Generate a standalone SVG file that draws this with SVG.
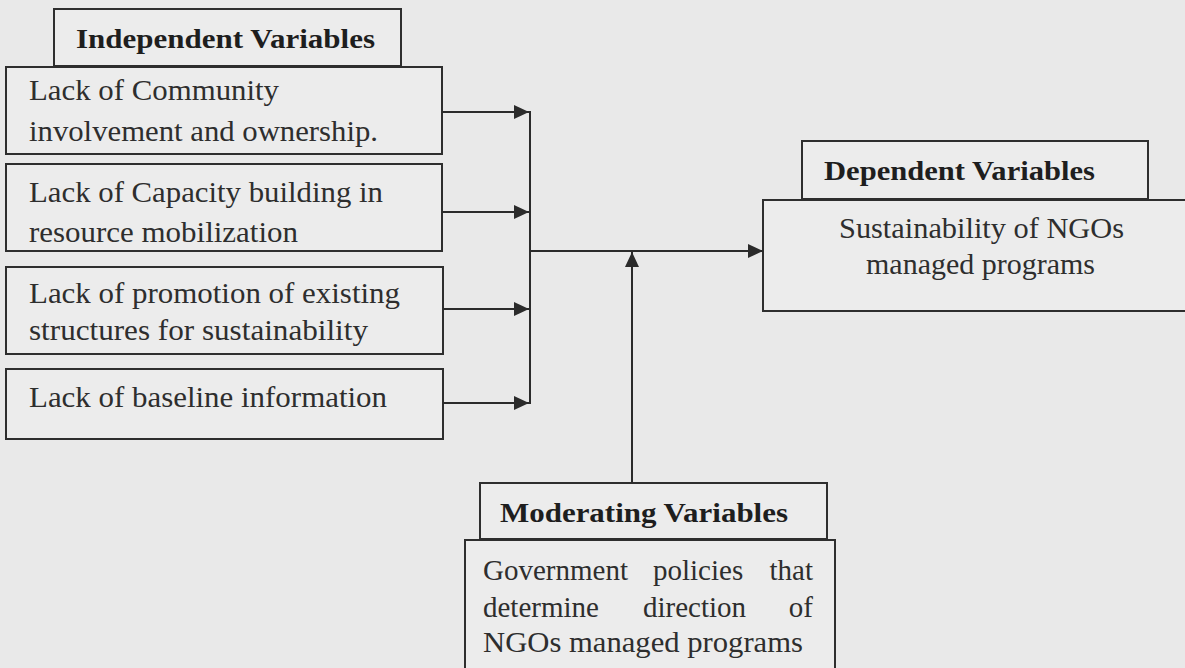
<svg xmlns="http://www.w3.org/2000/svg" width="1185" height="668" viewBox="0 0 1185 668">
<defs>
<marker id="ah" viewBox="0 0 15 14" refX="15" refY="7" markerWidth="15" markerHeight="14" markerUnits="userSpaceOnUse" orient="auto">
<path d="M0,0 L15,7 L0,14 Z" fill="#2b2b2b"/>
</marker>
<style>
.bx{fill:#ececec;stroke:#2e2e2e;stroke-width:2}
.t{font-family:"Liberation Serif","Times New Roman",serif;font-size:29px;fill:#2e2e2e}
.h{font-family:"Liberation Serif","Times New Roman",serif;font-size:28px;font-weight:bold;fill:#1e1e1e}
.c{fill:none;stroke:#2b2b2b;stroke-width:2}
</style>
</defs>
<rect width="1185" height="668" fill="#e9e9e9"/>
<g id="independent-header">
<rect class="bx" x="54" y="9" width="347" height="57"/>
<text class="h" x="76" y="48" textLength="299" lengthAdjust="spacingAndGlyphs">Independent Variables</text>
</g>
<g id="iv1">
<rect class="bx" x="6" y="67" width="436" height="87"/>
<text class="t" x="29" y="100" textLength="250" lengthAdjust="spacingAndGlyphs">Lack of Community</text>
<text class="t" x="29" y="141" textLength="349" lengthAdjust="spacingAndGlyphs">involvement and ownership.</text>
</g>
<g id="iv2">
<rect class="bx" x="6" y="164" width="436" height="87"/>
<text class="t" x="29" y="202" textLength="354" lengthAdjust="spacingAndGlyphs">Lack of Capacity building in</text>
<text class="t" x="29" y="242" textLength="269" lengthAdjust="spacingAndGlyphs">resource mobilization</text>
</g>
<g id="iv3">
<rect class="bx" x="6" y="267" width="437" height="87"/>
<text class="t" x="29" y="303" textLength="371" lengthAdjust="spacingAndGlyphs">Lack of promotion of existing</text>
<text class="t" x="29" y="340" textLength="339" lengthAdjust="spacingAndGlyphs">structures for sustainability</text>
</g>
<g id="iv4">
<rect class="bx" x="6" y="369" width="437" height="70"/>
<text class="t" x="29" y="407" textLength="358" lengthAdjust="spacingAndGlyphs">Lack of baseline information</text>
</g>
<g id="dependent-header">
<rect class="bx" x="802" y="141" width="346" height="58"/>
<text class="h" x="824" y="180" textLength="271" lengthAdjust="spacingAndGlyphs">Dependent Variables</text>
</g>
<g id="dv">
<rect class="bx" x="763" y="200" width="430" height="111"/>
<text class="t" x="839" y="238" textLength="285" lengthAdjust="spacingAndGlyphs">Sustainability of NGOs</text>
<text class="t" x="866" y="274" textLength="229" lengthAdjust="spacingAndGlyphs">managed programs</text>
</g>
<g id="moderating-header">
<rect class="bx" x="480" y="483" width="347" height="56"/>
<text class="h" x="500" y="522" textLength="288" lengthAdjust="spacingAndGlyphs">Moderating Variables</text>
</g>
<g id="mv">
<rect class="bx" x="465" y="540" width="370" height="140"/>
<text class="t" x="483" y="580">Government</text>
<text class="t" x="653" y="580">policies</text>
<text class="t" x="813" y="580" text-anchor="end">that</text>
<text class="t" x="483" y="617">determine</text>
<text class="t" x="643" y="617">direction</text>
<text class="t" x="813" y="617" text-anchor="end">of</text>
<text class="t" x="483" y="652" textLength="320" lengthAdjust="spacingAndGlyphs">NGOs managed programs</text>
</g>
<g id="connectors">
<line class="c" x1="442" y1="112" x2="529" y2="112" marker-end="url(#ah)"/>
<line class="c" x1="442" y1="212" x2="529" y2="212" marker-end="url(#ah)"/>
<line class="c" x1="443" y1="309" x2="529" y2="309" marker-end="url(#ah)"/>
<line class="c" x1="443" y1="403" x2="529" y2="403" marker-end="url(#ah)"/>
<line class="c" x1="530" y1="111" x2="530" y2="404"/>
<line class="c" x1="530" y1="251" x2="763" y2="251" marker-end="url(#ah)"/>
<line class="c" x1="632" y1="483" x2="632" y2="252" marker-end="url(#ah)"/>
</g>
</svg>
